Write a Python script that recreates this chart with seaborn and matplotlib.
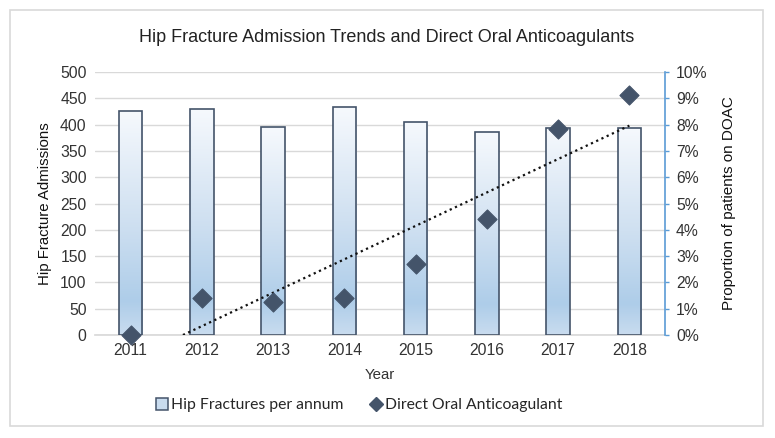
import numpy as np
import pandas as pd
import matplotlib
matplotlib.use("Agg")
import matplotlib.pyplot as plt
import seaborn as sns
from matplotlib.colors import LinearSegmentedColormap
from matplotlib.lines import Line2D
from matplotlib.patches import Rectangle
from matplotlib.ticker import PercentFormatter

years = ["2011", "2012", "2013", "2014", "2015", "2016", "2017", "2018"]
hip_fractures = [426, 430, 395, 433, 405, 385, 394, 394]
doac_pct = [0.0, 1.39, 1.27, 1.39, 2.71, 4.40, 7.84, 9.11]

title = "Hip Fracture Admission Trends and Direct Oral Anticoagulants"
left_label = "Hip Fracture Admissions"
right_label = "Proportion of patients on DOAC"
x_label = "Year"
bar_legend = "Hip Fractures per annum"
doac_legend = "Direct Oral Anticoagulant"

sns.set_theme(style="white")
plt.rcParams["font.family"] = ["Liberation Sans", "DejaVu Sans"]

df = pd.DataFrame({"Year": years, "Hip": hip_fractures, "DOAC": doac_pct,
                   "pos": np.arange(len(years))})

fig = plt.figure(figsize=(7.75, 4.38), dpi=100)
# outer chart border
fig.patches.append(Rectangle((10 / 775, 1 - 426 / 438), (763 - 10) / 775, (426 - 10) / 438,
                             transform=fig.transFigure, fill=False, edgecolor="#d9d9d9",
                             linewidth=1.2, zorder=0))
ax = fig.add_axes([95 / 775, 1 - 335 / 438, (665 - 95) / 775, (335 - 72) / 438])

edge = "#44546a"
sns.barplot(data=df, x="Year", y="Hip", ax=ax, width=0.33, color="#bcd5ec",
            edgecolor=edge, linewidth=1.2, saturation=1, zorder=2)

cmap = LinearSegmentedColormap.from_list(
    "grad", [(0.0, "#f6f9fd"), (0.5, "#cfe0f1"), (0.85, "#aecde9"), (1.0, "#c9dcef")])
grad = np.linspace(0, 1, 256).reshape(-1, 1)
for p in list(ax.patches):
    x0, y0 = p.get_x(), p.get_y()
    w, h = p.get_width(), p.get_height()
    im = ax.imshow(grad, cmap=cmap, aspect="auto", extent=[x0, x0 + w, y0, y0 + h],
                   origin="upper", zorder=2.5)
    im.set_clip_path(p)
    p.set_facecolor("none")
    p.set_zorder(3)

ax.set_xlim(-0.5, len(years) - 0.5)
ax.set_ylim(0, 500)
ax.set_yticks(np.arange(0, 501, 50))
ax.grid(axis="y", color="#d9d9d9", linewidth=1, zorder=0)
ax.set_axisbelow(True)
for s in ["top", "left", "right"]:
    ax.spines[s].set_visible(False)
ax.spines["bottom"].set_color("#d9d9d9")
ax.tick_params(axis="both", length=0, labelsize=11.3, labelcolor="#333333", pad=6)
ax.set_xlabel(x_label, fontsize=10.8, color="#333333", labelpad=7)
ax.set_ylabel(left_label, fontsize=10.8, color="#111111", labelpad=6)

ax2 = ax.twinx()
sns.scatterplot(data=df, x="pos", y="DOAC", ax=ax2, marker="D", s=95,
                color=edge, edgecolor=edge, zorder=5, legend=False, clip_on=False)
coef = np.polyfit(df["pos"], df["DOAC"], 1)
xs = np.array([0, len(years) - 1])
ax2.plot(xs, np.polyval(coef, xs), linestyle=(0, (1, 1.6)), color="#111111",
         linewidth=1.6, zorder=4)
ax2.set_ylim(0, 10)
ax2.set_yticks(np.arange(0, 11, 1))
ax2.yaxis.set_major_formatter(PercentFormatter(decimals=0))
ax2.set_xlim(-0.5, len(years) - 0.5)
for s in ["top", "left", "bottom"]:
    ax2.spines[s].set_visible(False)
ax2.spines["right"].set_color("#5b9bd5")
ax2.spines["right"].set_linewidth(1.2)
ax2.tick_params(axis="y", length=3, width=1, color="#5b9bd5", labelsize=11.3,
                labelcolor="#333333", pad=5)
ax2.set_ylabel(right_label, fontsize=11, color="#111111", labelpad=10)
ax2.set_xlabel("")

fig.text(387 / 775, 1 - 38 / 438, title, ha="center", va="center", fontsize=13,
         color="#222222")

handles = [
    Line2D([], [], marker="s", linestyle="none", markersize=8.5,
           markerfacecolor="#c9dcef", markeredgecolor=edge, markeredgewidth=1.1),
    Line2D([], [], marker="D", linestyle="none", markersize=7.5,
           markerfacecolor=edge, markeredgecolor=edge),
]
fig.legend(handles, [bar_legend, doac_legend], loc="center",
           bbox_to_anchor=(358 / 775, 1 - 405 / 438), ncol=2, frameon=False,
           prop={"family": ["Lato", "DejaVu Sans"], "size": 11.3},
           handletextpad=0.05, columnspacing=1.6, handlelength=1.0)

fig.savefig("out.png", dpi=100)
